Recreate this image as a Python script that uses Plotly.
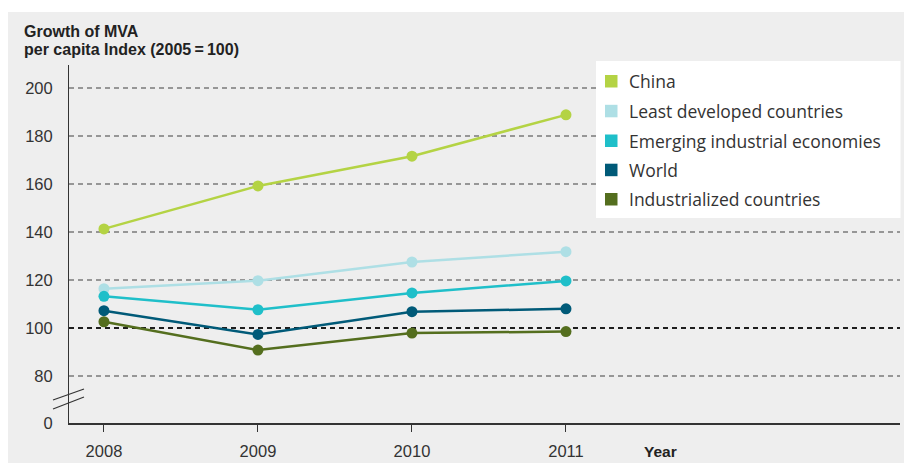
import plotly.graph_objects as go

# ---- data ----
years = [2008, 2009, 2010, 2011]
series_names = ["China", "Least developed countries", "Emerging industrial economies",
                "World", "Industrialized countries"]
china = [141.3, 159.2, 171.6, 188.8]
least_developed = [116.4, 119.7, 127.5, 131.8]
emerging = [113.2, 107.6, 114.6, 119.6]
world = [107.2, 97.3, 106.8, 108.0]
industrialized = [102.6, 90.8, 97.9, 98.5]
y_tick_values = [60.42, 80, 100, 120, 140, 160, 180, 200]
y_tick_labels = ["0", "80", "100", "120", "140", "160", "180", "200"]
grid_values = [80, 120, 140, 160, 180, 200]
baseline_value = 100

colors = ["#b4d344", "#aedfe5", "#1fbfc9", "#005a78", "#546e1e"]
values = [china, least_developed, emerging, world, industrialized]

W, H = 904, 463
L, R, T, B = 69, 4, 65, 40
PW, PH = W - L - R, H - T - B

def px(x):
    return (x - L) / PW

def py(y):
    return (H - B - y) / PH

FONT = "Liberation Sans, Arial, sans-serif"
LFONT = "Open Sans, Liberation Sans, sans-serif"
TXT = "#333333"

fig = go.Figure()
for name, vals, col in zip(series_names, values, colors):
    fig.add_trace(go.Scatter(
        x=years, y=vals, name=name, mode="lines+markers",
        line=dict(color=col, width=2.5),
        marker=dict(color=col, size=11),
        showlegend=False,
    ))

shapes = []
# outer gray panel
shapes.append(dict(type="rect", xref="paper", yref="paper",
                   x0=px(8), x1=px(904), y0=py(463), y1=py(12),
                   fillcolor="#eeeeee", line=dict(width=0), layer="below"))
# gridlines
for g in grid_values:
    shapes.append(dict(type="line", xref="paper", yref="y", x0=0, x1=1, y0=g, y1=g,
                       line=dict(color="#7a7a7a", width=1.5, dash="5px,4px"), layer="below"))
shapes.append(dict(type="line", xref="paper", yref="y", x0=0, x1=1,
                   y0=baseline_value, y1=baseline_value,
                   line=dict(color="#1e1e1e", width=2, dash="5px,4px"), layer="below"))
# legend box
shapes.append(dict(type="rect", xref="paper", yref="paper",
                   x0=px(596), x1=px(900.5), y0=py(218), y1=py(61),
                   fillcolor="#ffffff", line=dict(width=0), layer="below"))
# axis break marks
for (xa, ya, xb, yb) in [(53, 400, 84, 389), (53, 409, 84, 397)]:
    shapes.append(dict(type="line", xref="paper", yref="paper",
                       x0=px(xa), y0=py(ya), x1=px(xb), y1=py(yb),
                       line=dict(color="#333333", width=1.2)))

annotations = []
legend_y = [81, 110.8, 140.5, 169.7, 199]
for name, col, ly in zip(series_names, colors, legend_y):
    shapes.append(dict(type="rect", xref="paper", yref="paper",
                       x0=px(605), x1=px(617.5), y0=py(ly + 6.5), y1=py(ly - 6),
                       fillcolor=col, line=dict(width=0)))
    annotations.append(dict(xref="paper", yref="paper", x=px(626.5), y=py(ly),
                            xanchor="left", yanchor="middle", showarrow=False,
                            text=name, font=dict(family=LFONT, size=17.5, color=TXT)))

annotations.append(dict(xref="paper", yref="paper", x=px(22), y=py(31),
                        xanchor="left", yanchor="middle", showarrow=False,
                        text="<b>Growth of MVA</b>",
                        font=dict(family=FONT, size=16, color="#222222")))
annotations.append(dict(xref="paper", yref="paper", x=px(22), y=py(49.5),
                        xanchor="left", yanchor="middle", showarrow=False,
                        text="<b>per capita Index (2005\u2009=\u2009100)</b>",
                        font=dict(family=FONT, size=16, color="#222222")))
annotations.append(dict(xref="paper", yref="paper", x=px(660), y=py(451),
                        xanchor="center", yanchor="middle", showarrow=False,
                        text="<b>Year</b>",
                        font=dict(family=FONT, size=15.5, color="#222222")))

fig.update_layout(
    width=W, height=H,
    margin=dict(l=L, r=R, t=T, b=B, pad=0),
    paper_bgcolor="#ffffff",
    plot_bgcolor="#eeeeee",
    showlegend=False,
    shapes=shapes,
    annotations=annotations,
    xaxis=dict(range=[2007.773, 2013.169], tickvals=years, ticktext=[str(y) for y in years],
               showgrid=False, zeroline=False, showline=True, linecolor="#333333", linewidth=1.5,
               ticks="outside", ticklen=7, tickcolor="#333333", tickwidth=1,
               ticklabelstandoff=5,
               tickfont=dict(family=FONT, size=16.5, color=TXT)),
    yaxis=dict(range=[60.42, 209.58], tickvals=y_tick_values, ticktext=y_tick_labels,
               showgrid=False, zeroline=False, showline=True, linecolor="#333333", linewidth=1,
               ticks="", ticklabelstandoff=12,
               tickfont=dict(family=FONT, size=16.5, color=TXT)),
)

fig.write_html("out.html")
